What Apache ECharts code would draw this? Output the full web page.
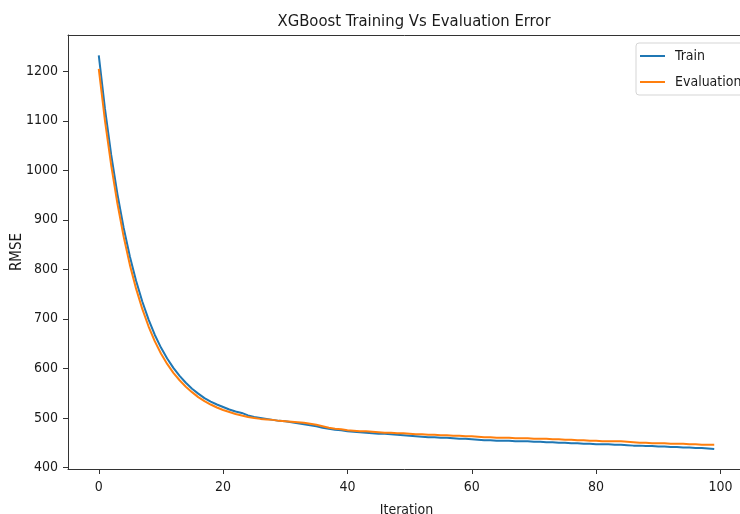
<!DOCTYPE html>
<html>
<head>
<meta charset="utf-8">
<script src="https://cdn.jsdelivr.net/npm/echarts@6/dist/echarts.min.js"></script>
<style>
  html, body { margin: 0; padding: 0; background: #ffffff; }
  #chart { width: 740px; height: 514px; }
</style>
</head>
<body>
<div id="chart"></div>
<script>
// RMSE per boosting round
var trainRmse = [
  1232, 1124, 1031, 952, 884, 826, 777, 735, 699, 668,
  642, 620, 601, 585, 571, 559, 549, 540, 533, 527,
  522, 517, 513, 510, 505, 502, 500, 498, 496, 494,
  493, 491, 489, 487, 485, 483, 480, 478, 476, 475,
  473, 472, 471, 470, 469, 468, 468, 467, 466, 465,
  464, 463, 462, 461, 461, 460, 460, 459, 458, 458,
  457, 456, 455, 455, 454, 454, 454, 453, 453, 453,
  452, 452, 451, 451, 450, 450, 449, 449, 448, 448,
  447, 447, 447, 446, 446, 445, 444, 444, 443, 443,
  442, 442, 441, 441, 440, 440, 439, 439, 438, 437
];
var evalRmse = [
  1205, 1100, 1010, 933, 866, 809, 761, 720, 685, 655,
  630, 609, 591, 576, 563, 552, 542, 534, 527, 521,
  516, 512, 508, 505, 502, 500, 498, 497, 496, 494,
  493, 492, 491, 490, 488, 486, 483, 480, 478, 477,
  475, 474, 473, 473, 472, 471, 470, 470, 469, 469,
  468, 467, 467, 466, 466, 465, 465, 464, 464, 463,
  463, 462, 461, 461, 460, 460, 460, 459, 459, 459,
  458, 458, 458, 457, 457, 456, 456, 455, 455, 454,
  454, 453, 453, 453, 453, 452, 451, 450, 450, 449,
  449, 449, 448, 448, 448, 447, 447, 446, 446, 446
];
var xTicks = [0, 20, 40, 60, 80, 100];
var yTicks = [400, 500, 600, 700, 800, 900, 1000, 1100, 1200];

var FONT = '"Liberation Sans Narrow", "DejaVu Sans Condensed", "DejaVu Sans", sans-serif';
var INK = '#1a1a1a';
var SPINE = '#333333';

function pairs(arr) {
  return arr.map(function (v, i) { return [i, v]; });
}

var chart = echarts.init(document.getElementById('chart'), null, { renderer: 'canvas' });

var option = {
  backgroundColor: '#ffffff',
  animation: false,
  title: {
    text: 'XGBoost Training Vs Evaluation Error',
    left: 409,
    top: 8,
    textAlign: 'center',
    textStyle: { fontFamily: FONT, fontSize: 16.5, fontWeight: 'normal', color: INK }
  },
  legend: {
    data: ['Train', 'Evaluation'],
    orient: 'vertical',
    left: 636,
    top: 43,
    padding: [6, 12, 6, 4],
    itemGap: 12,
    itemWidth: 25,
    itemHeight: 2,
    icon: 'rect',
    borderColor: '#d5d5d5',
    borderWidth: 1,
    borderRadius: 3,
    backgroundColor: 'rgba(255,255,255,0.8)',
    textStyle: { fontFamily: FONT, fontSize: 14, color: INK, padding: [0, 0, 0, 5] }
  },
  grid: {
    left: 68,
    top: 35,
    width: 677,
    height: 434,
    containLabel: false,
    outerBoundsMode: 'none'
  },
  xAxis: [
    {
      type: 'value',
      min: -4.95,
      max: 103.95,
      name: 'Iteration',
      nameLocation: 'middle',
      nameGap: 34,
      nameMoveOverlap: false,
      nameTextStyle: { fontFamily: FONT, fontSize: 14, color: INK },
      axisLine: { onZero: false, lineStyle: { color: SPINE, width: 1 } },
      axisTick: { show: true, length: 5, customValues: xTicks, lineStyle: { color: SPINE } },
      axisLabel: { customValues: xTicks, margin: 11, fontFamily: FONT, fontSize: 14, color: INK },
      splitLine: { show: false }
    },
    {
      // top spine only
      type: 'value',
      position: 'top',
      min: -4.95,
      max: 103.95,
      axisLine: { show: true, onZero: false, lineStyle: { color: SPINE, width: 1 } },
      axisTick: { show: false },
      axisLabel: { show: false },
      splitLine: { show: false }
    }
  ],
  yAxis: {
    type: 'value',
    min: 396.8,
    max: 1273.2,
    name: 'RMSE',
    nameLocation: 'middle',
    nameRotate: 90,
    nameGap: 43,
    nameMoveOverlap: false,
    nameTextStyle: { fontFamily: FONT, fontSize: 15, color: INK },
    axisLine: { show: true, onZero: false, lineStyle: { color: SPINE, width: 1 } },
    axisTick: { show: true, length: 5, customValues: yTicks, lineStyle: { color: SPINE } },
    axisLabel: {
      customValues: yTicks,
      margin: 10,
      formatter: function (v) { return String(v); },
      fontFamily: FONT,
      fontSize: 14,
      color: INK
    },
    splitLine: { show: false }
  },
  series: [
    {
      name: 'Train',
      type: 'line',
      data: pairs(trainRmse),
      showSymbol: false,
      symbol: 'none',
      color: '#1f77b4',
      lineStyle: { width: 2, color: '#1f77b4' }
    },
    {
      name: 'Evaluation',
      type: 'line',
      data: pairs(evalRmse),
      showSymbol: false,
      symbol: 'none',
      color: '#ff7f0e',
      lineStyle: { width: 2, color: '#ff7f0e' }
    }
  ]
};

chart.setOption(option);
</script>
</body>
</html>
